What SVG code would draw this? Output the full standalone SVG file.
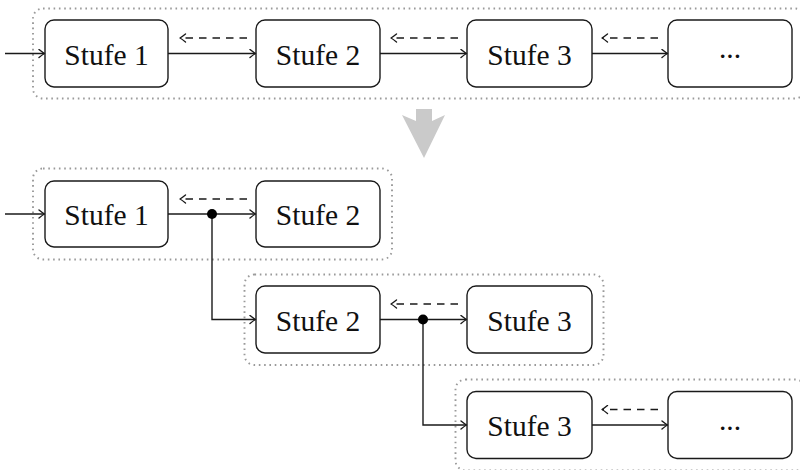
<svg xmlns="http://www.w3.org/2000/svg" width="800" height="470" viewBox="0 0 800 470">
  <defs>
    <style>
      .stage { fill: #ffffff; stroke: #1a1a1a; stroke-width: 1.4; }
      .label { font-family: "Liberation Serif", "DejaVu Serif", serif; font-size: 29.5px; fill: #111111; text-anchor: middle; }
      .group { fill: none; stroke: #9a9a9a; stroke-width: 1.9; stroke-dasharray: 1.6 3.7; stroke-linecap: butt; }
      .flow { fill: none; stroke: #1a1a1a; stroke-width: 1.4; marker-end: url(#tip); }
      .back { fill: none; stroke: #1a1a1a; stroke-width: 1.4; stroke-dasharray: 7.5 6; marker-end: url(#tip); }
      .junction { fill: #000000; }
    </style>
    <marker id="tip" viewBox="-7 -5 8 10" markerWidth="8" markerHeight="10" refX="0" refY="0" orient="auto" markerUnits="userSpaceOnUse">
      <path d="M-5.5,-4 Q-1.5,-0.8 0,0 Q-1.5,0.8 -5.5,4" fill="none" stroke="#1a1a1a" stroke-width="1.4" stroke-linecap="round" stroke-linejoin="round"/>
    </marker>
  </defs>

  <!-- grouping frames -->
  <g id="frames">
    <rect class="group" x="33" y="8.5" width="772" height="90" rx="10"/>
    <rect class="group" x="33" y="168.5" width="359" height="91" rx="10"/>
    <rect class="group" x="244.5" y="274.5" width="359" height="90.5" rx="10"/>
    <rect class="group" x="455.5" y="379.5" width="350" height="91" rx="10"/>
  </g>

  <!-- transformation arrow -->
  <g id="transform-arrow">
    <polygon points="416,109 432,109 432,121 445,115 424,158 402,115 416,121" fill="#cacaca"/>
  </g>

  <!-- row 1 -->
  <g id="r1-stufe1"><rect class="stage" x="45" y="20" width="123" height="67" rx="9"/><text class="label" x="106.5" y="64.5">Stufe 1</text></g>
  <g id="r1-stufe2"><rect class="stage" x="256" y="20" width="124" height="67" rx="9"/><text class="label" x="318" y="64.5">Stufe 2</text></g>
  <g id="r1-stufe3"><rect class="stage" x="467" y="20" width="125" height="67" rx="9"/><text class="label" x="529.5" y="64.5">Stufe 3</text></g>
  <g id="r1-more"><rect class="stage" x="668" y="20" width="124" height="67" rx="9"/><text class="label" x="730" y="58">...</text></g>

  <!-- row 2 -->
  <g id="r2-stufe1"><rect class="stage" x="45" y="181" width="123" height="66" rx="9"/><text class="label" x="106.5" y="225">Stufe 1</text></g>
  <g id="r2-stufe2"><rect class="stage" x="256" y="181" width="124" height="66" rx="9"/><text class="label" x="318" y="225">Stufe 2</text></g>

  <!-- row 3 -->
  <g id="r3-stufe2"><rect class="stage" x="256" y="286" width="124" height="67" rx="9"/><text class="label" x="318" y="330.5">Stufe 2</text></g>
  <g id="r3-stufe3"><rect class="stage" x="467" y="286" width="125" height="67" rx="9"/><text class="label" x="529.5" y="330.5">Stufe 3</text></g>

  <!-- row 4 -->
  <g id="r4-stufe3"><rect class="stage" x="467" y="391.5" width="125" height="67" rx="9"/><text class="label" x="529.5" y="436">Stufe 3</text></g>
  <g id="r4-more"><rect class="stage" x="668" y="391.5" width="124" height="67" rx="9"/><text class="label" x="730" y="429.5">...</text></g>

  <!-- connectors -->
  <g id="connectors">
    <!-- row 1 -->
    <path class="flow" d="M5,53.5 H44.5"/>
    <path class="flow" d="M168,53.5 H255.5"/>
    <path class="flow" d="M380,53.5 H466.5"/>
    <path class="flow" d="M592,53.5 H667.5"/>
    <path class="back" d="M247,38 H180"/>
    <path class="back" d="M458,38 H391"/>
    <path class="back" d="M658,38 H602"/>

    <!-- row 2 -->
    <path class="flow" d="M5,214 H44.5"/>
    <path class="flow" d="M168,214 H255.5"/>
    <path class="back" d="M247,199 H180"/>
    <path class="flow" d="M212,214 V319.5 H255.5"/>
    <circle class="junction" cx="212" cy="214" r="5"/>

    <!-- row 3 -->
    <path class="flow" d="M380,319.5 H466.5"/>
    <path class="back" d="M458,304 H391"/>
    <path class="flow" d="M423,319.5 V425 H466.5"/>
    <circle class="junction" cx="423" cy="319.5" r="5"/>

    <!-- row 4 -->
    <path class="flow" d="M592,425 H667.5"/>
    <path class="back" d="M658,409.5 H602"/>
  </g>
</svg>
